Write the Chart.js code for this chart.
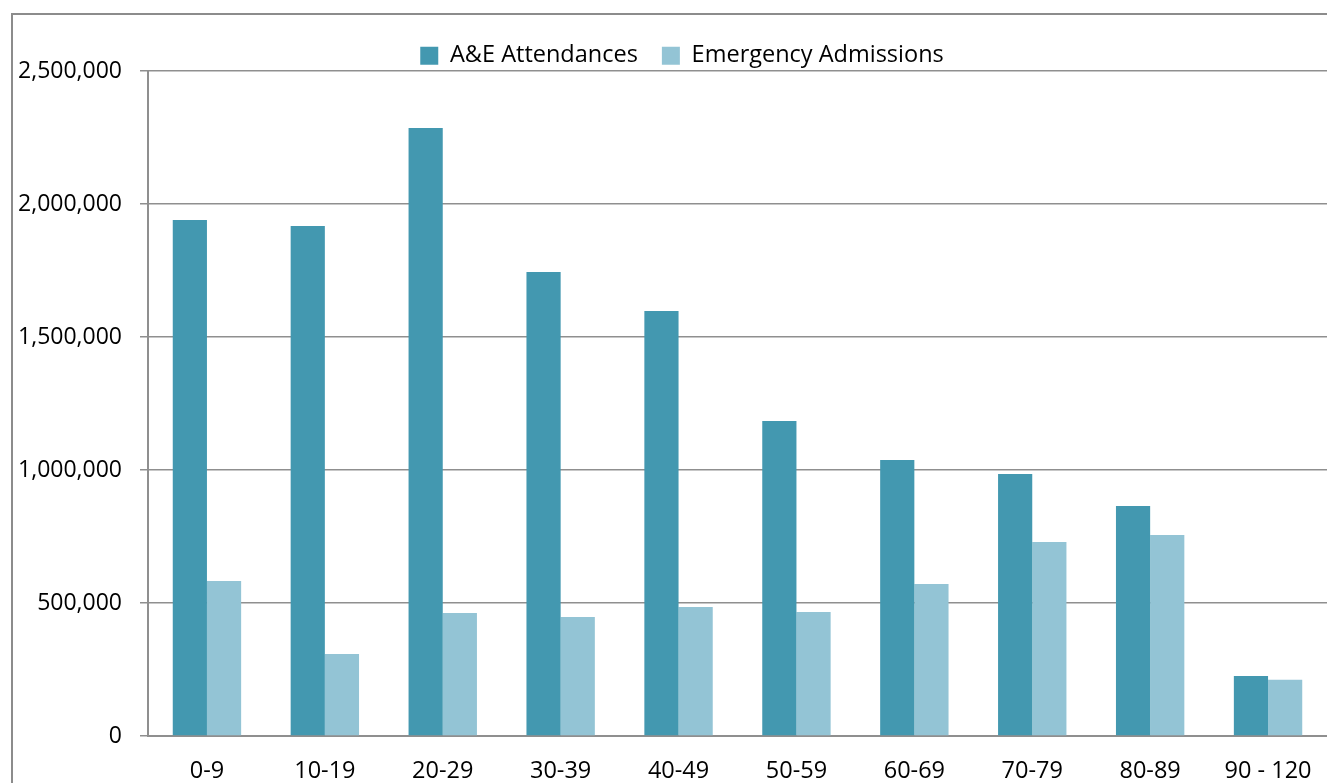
<!DOCTYPE html>
<html lang="en">
<head>
    <meta charset="UTF-8">
    <title>A&amp;E Attendances and Emergency Admissions by Age</title>
    <script src="https://cdn.jsdelivr.net/npm/chart.js"></script>
    <style>
        body {
            margin: 0;
            background: #fff;
        }
        #wrap {
            width: 1327px;
            height: 783px;
            position: relative;
        }
    </style>
</head>
<body>

<div id="wrap">
    <canvas id="ageChart" width="1327" height="783"></canvas>
</div>

<script>
    // age bands along the x axis
    const ageBands = ['0-9', '10-19', '20-29', '30-39', '40-49', '50-59', '60-69', '70-79', '80-89', '90 - 120'];

    // values
    const aeAttendances = [1940000, 1917000, 2286000, 1744000, 1598000, 1184000, 1038000, 985000, 865000, 226000];
    const emergencyAdmissions = [583000, 308000, 462000, 447000, 485000, 466000, 571000, 729000, 756000, 211000];

    const yTicks = [0, 500000, 1000000, 1500000, 2000000, 2500000];

    const fontFamily = "'Open Sans', 'Noto Sans', sans-serif";
    const gridColor = '#8f8f8f';

    // outer frame round the chart
    const frame = {
        id: 'frame',
        beforeDraw(chart) {
            const ctx = chart.ctx;
            ctx.save();
            ctx.strokeStyle = '#8c8c8c';
            ctx.lineWidth = 2;
            ctx.strokeRect(12, 14, 2000, 2000);
            ctx.restore();
        }
    };

    // legend: fixed height so the plot starts where it should, nudged right a bit
    const legendTweak = {
        id: 'legendTweak',
        afterInit(chart) {
            const legend = chart.legend;
            if (!legend) return;
            const fit = legend.fit;
            legend.fit = function () {
                fit.call(this);
                this.height = 51;
            };
        },
        afterLayout(chart) {
            if (chart.legend) chart.legend.left += 34;
        }
    };

    const ctx = document.getElementById('ageChart').getContext('2d');
    const chart = new Chart(ctx, {
        type: 'bar',
        data: {
            labels: ageBands,
            datasets: [{
                label: 'A&E Attendances',
                data: aeAttendances,
                backgroundColor: '#4398b0'
            }, {
                label: 'Emergency Admissions',
                data: emergencyAdmissions,
                backgroundColor: '#93c4d5'
            }]
        },
        options: {
            responsive: false,
            animation: false,
            layout: {
                padding: { left: 0, top: 20, right: -3, bottom: 0 }
            },
            datasets: {
                bar: {
                    categoryPercentage: 0.58,
                    barPercentage: 1
                }
            },
            plugins: {
                legend: {
                    display: true,
                    position: 'top',
                    labels: {
                        color: '#000',
                        font: { family: fontFamily, size: 23.5 },
                        boxWidth: 18,
                        boxHeight: 18,
                        padding: 24
                    }
                },
                tooltip: { enabled: false }
            },
            scales: {
                x: {
                    grid: { display: false, drawTicks: false },
                    border: { display: true, color: gridColor, width: 2 },
                    ticks: {
                        color: '#000',
                        font: { family: fontFamily, size: 23.5 },
                        padding: 21,
                        maxRotation: 0
                    },
                    afterFit(scale) {
                        scale.height = 47;
                        scale.paddingLeft = 0;
                        scale.paddingRight = 0;
                    }
                },
                y: {
                    min: 0,
                    max: 2500000,
                    afterBuildTicks(scale) {
                        scale.ticks = yTicks.map(v => ({ value: v }));
                    },
                    grid: {
                        color: gridColor,
                        lineWidth: 1.5,
                        tickLength: 8
                    },
                    border: { display: true, color: gridColor, width: 2 },
                    ticks: {
                        color: '#000',
                        font: { family: fontFamily, size: 23 },
                        padding: 18,
                        callback: v => v.toLocaleString('en-GB')
                    },
                    afterFit(scale) { scale.width = 148; }
                }
            }
        },
        plugins: [frame, legendTweak]
    });
</script>

</body>
</html>
